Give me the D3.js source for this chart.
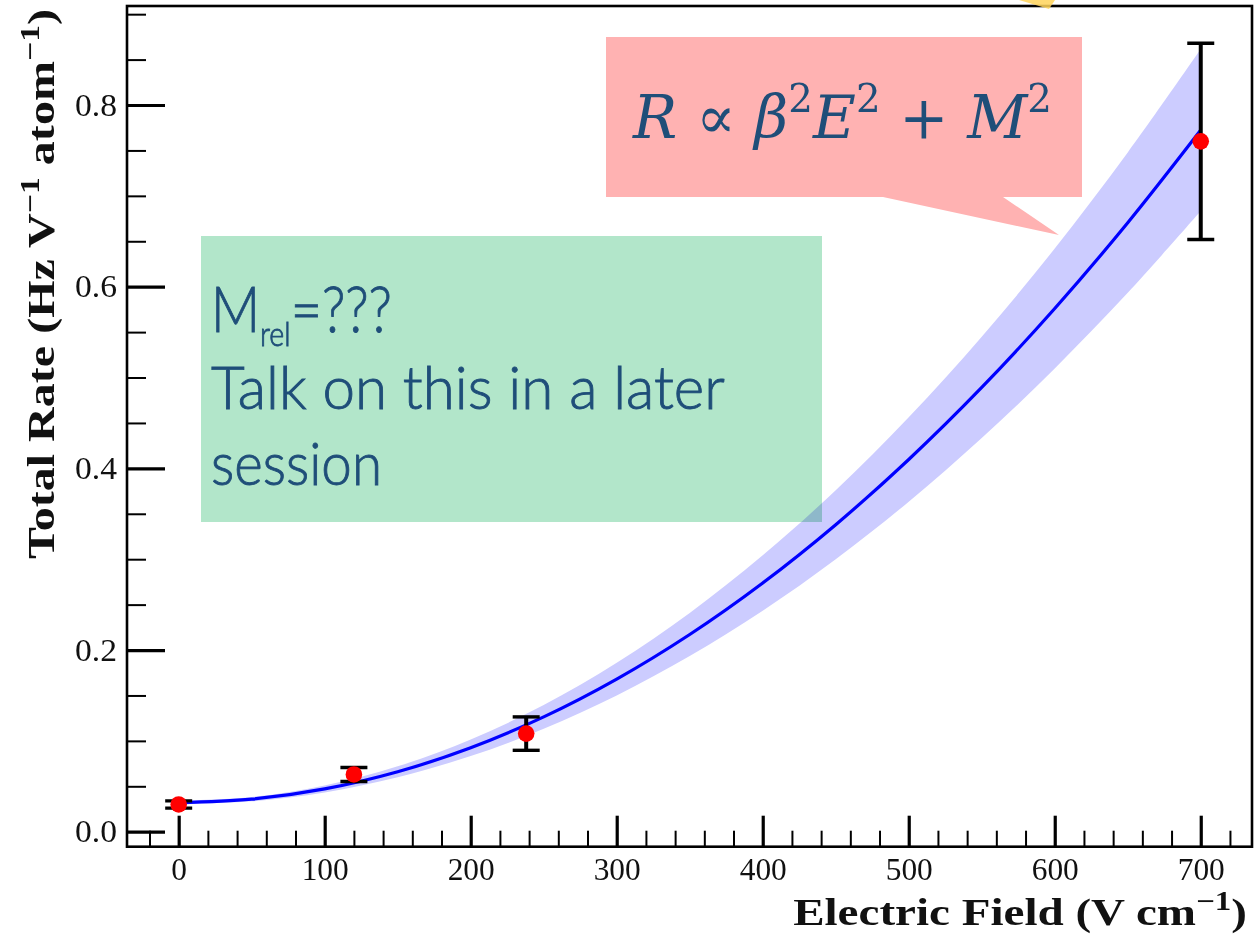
<!DOCTYPE html>
<html>
<head>
<meta charset="utf-8">
<script src="https://cdn.jsdelivr.net/npm/d3@7"></script>
<style>
  html, body { margin: 0; padding: 0; background: #fff; }
  svg { display: block; }
</style>
</head>
<body>
<script>
// Measured total rate at each electric field, with uncertainties
const fieldE    = [0, 120, 238, 700];
const totalRate = [0.030, 0.063, 0.108, 0.760];
const rateErr   = [0.004, 0.0077, 0.0184, 0.108];

// Fitted curve and its uncertainty band
const fitE     = [0, 50, 100, 150, 200, 250, 300, 350, 400, 450, 500, 550, 600, 650, 700];
const fitRate  = [0.0320, 0.0358, 0.0471, 0.0660, 0.0924, 0.1264, 0.1680, 0.2171, 0.2738, 0.3380, 0.4098, 0.4891, 0.5760, 0.6704, 0.7724];
const bandLow  = [0.0300, 0.0334, 0.0433, 0.0600, 0.0833, 0.1133, 0.1500, 0.1933, 0.2433, 0.3000, 0.3633, 0.4333, 0.5100, 0.5932, 0.6832];
const bandHigh = [0.0340, 0.0382, 0.0509, 0.0720, 0.1015, 0.1395, 0.1860, 0.2409, 0.3043, 0.3760, 0.4563, 0.5449, 0.6420, 0.7476, 0.8616];

// Axis ticks
const xMajorTicks = [0, 100, 200, 300, 400, 500, 600, 700];
const xTickLabels = ["0", "100", "200", "300", "400", "500", "600", "700"];
const yMajorTicks = [0, 0.2, 0.4, 0.6, 0.8];
const yTickLabels = ["0.0", "0.2", "0.4", "0.6", "0.8"];

const W = 1256, H = 937;
const frame = { left: 127, top: 6, right: 1252, bottom: 846.7 };

const svg = d3.select("body").append("svg")
  .attr("width", W).attr("height", H)
  .attr("viewBox", `0 0 ${W} ${H}`);

const x = d3.scaleLinear().domain([-35.4, 735.1]).range([frame.left, frame.right]);
const y = d3.scaleLinear().domain([-0.0165, 0.909]).range([frame.bottom, frame.top]);

const serif = "'Liberation Serif', 'Times New Roman', serif";

svg.append("defs").append("clipPath").attr("id", "plotClip")
  .append("rect")
  .attr("x", frame.left).attr("y", frame.top)
  .attr("width", frame.right - frame.left).attr("height", frame.bottom - frame.top);

const plot = svg.append("g").attr("clip-path", "url(#plotClip)");

// Uncertainty band
const bandData = fitE.map((e, i) => ({ e, lo: bandLow[i], hi: bandHigh[i] }));
plot.append("path")
  .datum(bandData)
  .attr("fill", "#ccccff")
  .attr("d", d3.area()
    .x(d => x(d.e))
    .y0(d => y(d.lo))
    .y1(d => y(d.hi))
    .curve(d3.curveCatmullRom));

// Fit line
const fitData = fitE.map((e, i) => ({ e, r: fitRate[i] }));
plot.append("path")
  .datum(fitData)
  .attr("fill", "none")
  .attr("stroke", "#0000ff")
  .attr("stroke-width", 3.2)
  .attr("d", d3.line()
    .x(d => x(d.e))
    .y(d => y(d.r))
    .curve(d3.curveCatmullRom));

// Error bars
const pts = fieldE.map((e, i) => ({ e, r: totalRate[i], err: rateErr[i] }));
const capHalf = 13.5;
const eb = plot.append("g").attr("stroke", "#000");
eb.selectAll("line.bar").data(pts).join("line")
  .attr("class", "bar")
  .attr("x1", d => x(d.e)).attr("x2", d => x(d.e))
  .attr("y1", d => y(d.r - d.err)).attr("y2", d => y(d.r + d.err))
  .attr("stroke-width", 4);
eb.selectAll("line.capTop").data(pts).join("line")
  .attr("class", "capTop")
  .attr("x1", d => x(d.e) - capHalf).attr("x2", d => x(d.e) + capHalf)
  .attr("y1", d => y(d.r + d.err)).attr("y2", d => y(d.r + d.err))
  .attr("stroke-width", 3.4);
eb.selectAll("line.capBot").data(pts).join("line")
  .attr("class", "capBot")
  .attr("x1", d => x(d.e) - capHalf).attr("x2", d => x(d.e) + capHalf)
  .attr("y1", d => y(d.r - d.err)).attr("y2", d => y(d.r - d.err))
  .attr("stroke-width", 3.4);

// Data points
plot.selectAll("circle.pt").data(pts).join("circle")
  .attr("class", "pt")
  .attr("cx", d => x(d.e)).attr("cy", d => y(d.r))
  .attr("r", 8.3)
  .attr("fill", "#ff0000");

// Axes: major and minor ticks drawn inward
function styleAxis(g, width) {
  g.select(".domain").remove();
  g.selectAll(".tick line").attr("stroke", "#000").attr("stroke-width", width);
}

const xMinor = d3.range(-20, 735, 20).filter(v => v % 100 !== 0);
const yMinor = d3.range(0, 0.91, 0.05).map(v => +v.toFixed(2)).filter(v => Math.abs(v / 0.2 - Math.round(v / 0.2)) > 1e-6);

svg.append("g")
  .attr("transform", `translate(0,${frame.bottom})`)
  .call(d3.axisBottom(x).tickValues(xMinor).tickSize(-16).tickFormat(""))
  .call(g => styleAxis(g, 2));

const xAxisG = svg.append("g")
  .attr("transform", `translate(0,${frame.bottom})`)
  .call(d3.axisBottom(x).tickValues(xMajorTicks).tickSize(-31).tickPadding(11)
    .tickFormat((d, i) => xTickLabels[i]))
  .call(g => styleAxis(g, 3.2));
xAxisG.selectAll(".tick text")
  .attr("font-family", serif).attr("font-size", 31).attr("fill", "#111")
  .attr("textLength", (d, i) => xTickLabels[i].length * 15.7)
  .attr("lengthAdjust", "spacingAndGlyphs");

svg.append("g")
  .attr("transform", `translate(${frame.left},0)`)
  .call(d3.axisLeft(y).tickValues(yMinor).tickSize(-19).tickFormat(""))
  .call(g => styleAxis(g, 2));

const yAxisG = svg.append("g")
  .attr("transform", `translate(${frame.left},0)`)
  .call(d3.axisLeft(y).tickValues(yMajorTicks).tickSize(-38).tickPadding(10)
    .tickFormat((d, i) => yTickLabels[i]))
  .call(g => styleAxis(g, 3.2));
yAxisG.selectAll(".tick text")
  .attr("font-family", serif).attr("font-size", 32).attr("fill", "#111")
  .attr("textLength", 42).attr("lengthAdjust", "spacingAndGlyphs");

// Frame
svg.append("rect")
  .attr("x", frame.left).attr("y", frame.top)
  .attr("width", frame.right - frame.left).attr("height", frame.bottom - frame.top)
  .attr("fill", "none").attr("stroke", "#000").attr("stroke-width", 2.6);

// Axis titles with superscripts
function richText(sel, parts, size) {
  parts.forEach(p => {
    const t = sel.append("tspan").text(p.t);
    if (p.sup) {
      t.attr("font-size", size * 0.7).attr("dy", -size * 0.4);
    } else if (p.after) {
      t.attr("dy", size * 0.4);
    }
  });
}

// stretch a text element horizontally (in its own frame) to a given length
function stretchTo(sel, target, ax, ay) {
  const w = sel.node().getComputedTextLength();
  if (w > 0) {
    const k = target / w;
    const base = sel.attr("data-base") || "";
    sel.attr("transform", `${base} translate(${ax},${ay}) scale(${k},1) translate(${-ax},${-ay})`);
  }
}

const xTitle = svg.append("text")
  .attr("x", 1247).attr("y", 925)
  .attr("text-anchor", "end")
  .attr("font-family", serif).attr("font-weight", "bold").attr("font-size", 38)
  .attr("fill", "#111");
richText(xTitle, [
  { t: "Electric Field (V cm" }, { t: "\u22121", sup: true }, { t: ")", after: true }
], 38);
stretchTo(xTitle, 454, 1247, 925);

const yTitle = svg.append("text")
  .attr("x", 0).attr("y", 0)
  .attr("text-anchor", "middle")
  .attr("data-base", "translate(54,284) rotate(-90)")
  .attr("font-family", serif).attr("font-weight", "bold").attr("font-size", 38)
  .attr("fill", "#111");
richText(yTitle, [
  { t: "Total Rate (Hz V" }, { t: "\u22121", sup: true }, { t: " atom", after: true },
  { t: "\u22121", sup: true }, { t: ")", after: true }
], 38);
stretchTo(yTitle, 550, 0, 0);

// Small yellow shape peeking in at the top edge
svg.append("path")
  .attr("d", "M1019,0 L1055,0 L1049,9 Z")
  .attr("fill", "#ffd45a").attr("opacity", 0.85);

// Speech-bubble callout with the rate relation
svg.append("path")
  .attr("d", "M606,37 L1082,37 L1082,197 L1003,197 L1059,235 L883,197 L606,197 Z")
  .attr("fill", "#ffb2b2");

const ink = "#1f4e79";
const mathFont = "'DejaVu Serif', serif";
const fs = 60;
const eq = svg.append("text")
  .attr("x", 633).attr("y", 138)
  .attr("font-family", mathFont).attr("font-size", fs).attr("fill", ink);
const eqParts = [
  { t: "R", i: true }, { t: " \u221D " }, { t: "\u03B2", i: true }, { t: "2", sup: true },
  { t: "E", i: true, after: true }, { t: "2", sup: true }, { t: " + ", after: true },
  { t: "M", i: true }, { t: "2", sup: true }
];
eqParts.forEach(p => {
  const t = eq.append("tspan").text(p.t);
  if (p.i) t.attr("font-style", "italic");
  if (p.sup) t.attr("font-size", fs * 0.66).attr("dy", -fs * 0.44);
  else if (p.after) t.attr("dy", fs * 0.44);
});
stretchTo(eq, 419, 633, 138);

// Note box
svg.append("rect")
  .attr("x", 201).attr("y", 236).attr("width", 621).attr("height", 286)
  .attr("fill", "#b2e6ca")
  .style("mix-blend-mode", "multiply");

const sans = "Lato, 'Open Sans', sans-serif";
function noteText(sel) {
  return sel.attr("font-family", sans).attr("font-weight", 300)
    .attr("fill", ink).attr("stroke", ink).attr("stroke-width", 0.9);
}
const l1 = noteText(svg.append("text")
  .attr("x", 211).attr("y", 332).attr("font-size", 64));
l1.append("tspan").text("M");
l1.append("tspan").text("rel").attr("font-size", 34).attr("dy", 14);
l1.append("tspan").text("=???").attr("dy", -14);
stretchTo(l1, 181, 211, 332);

const l2 = noteText(svg.append("text")
  .attr("x", 211).attr("y", 409).attr("font-size", 60))
  .text("Talk on this in a later");
stretchTo(l2, 514, 211, 409);

const l3 = noteText(svg.append("text")
  .attr("x", 211).attr("y", 485).attr("font-size", 60))
  .text("session");
stretchTo(l3, 171, 211, 485);
</script>
</body>
</html>
